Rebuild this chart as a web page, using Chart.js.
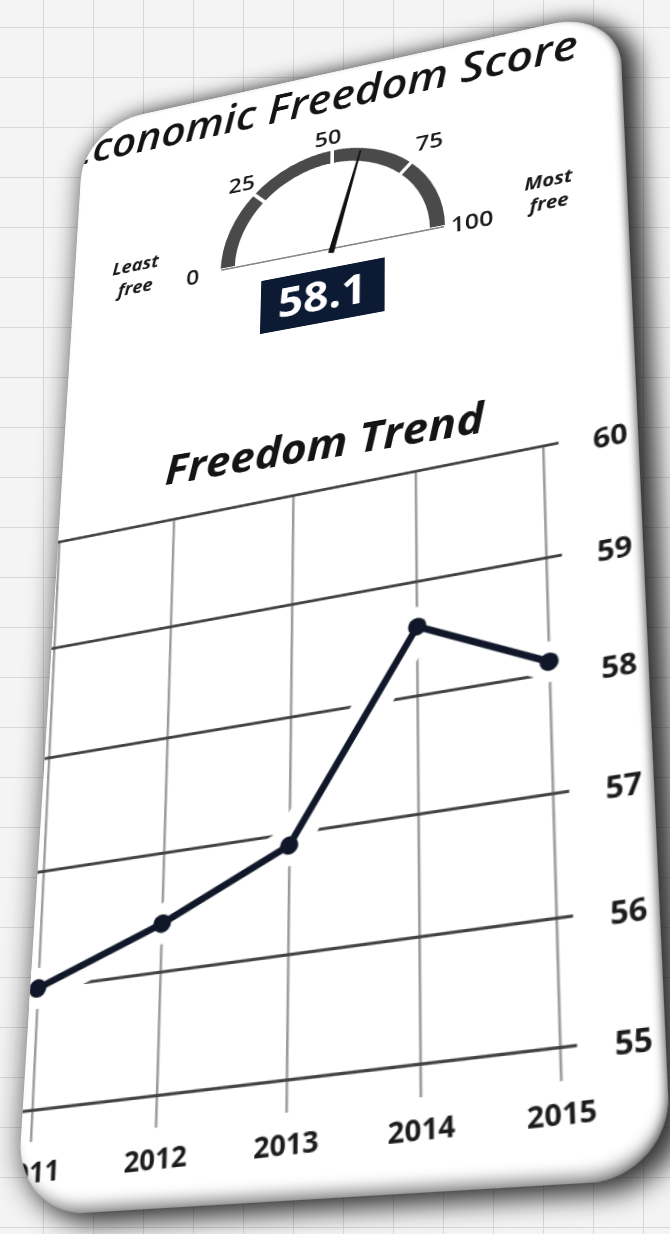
<!DOCTYPE html>
<html>
<head>
<meta charset="utf-8">
<script src="https://cdn.jsdelivr.net/npm/chart.js@4.4.1/dist/chart.umd.min.js"></script>
<style>
  html, body { margin: 0; padding: 0; }
  body {
    width: 670px; height: 1234px; overflow: hidden; position: relative;
    background-color: #f4f4f4;
    background-image:
      linear-gradient(#d8d8d8 1px, transparent 1px),
      linear-gradient(90deg, #d8d8d8 1px, transparent 1px);
    background-size: 50px 50px;
    background-position: 43px 27px;
    font-family: "Open Sans", sans-serif;
  }
  #card {
    position: absolute; left: 0; top: 0;
    width: 600px; height: 1200px;
    background: #fff;
    border-radius: 70px;
    overflow: hidden;
    transform-origin: 0 0;
    box-shadow:
      inset -4px -14px 14px -8px rgba(0,0,0,0.45),
      inset -6px 0 8px -5px rgba(0,0,0,0.55),
      0 0 26px 4px rgba(0,0,0,0.45),
      16px 8px 24px rgba(0,0,0,0.7);
  }
  .title {
    position: absolute; white-space: nowrap; line-height: 1;
    transform: translate(-50%, -50%);
    font-style: italic; color: #141414;
  }
  #scoreTitle { font-size: 50px; font-weight: 600; }
  #trendTitle { font-size: 47px; font-weight: 700; }
  canvas { position: absolute; }
  #trend { left: 0; top: 0; transform-origin: 0 0; }
</style>
</head>
<body>
<div id="card">
  <div id="scoreTitle" class="title">Economic Freedom Score</div>
  <canvas id="gauge"></canvas>
  <div id="trendTitle" class="title">Freedom Trend</div>
  <canvas id="trend"></canvas>
</div>
<script>
// data
const years = [2011, 2012, 2013, 2014, 2015];
const scores = [56.0, 56.4, 56.9, 58.6, 58.1];
const yTicks = [55, 56, 57, 58, 59, 60];
const gaugeTicks = [0, 25, 50, 75, 100];
const currentScore = 58.1;

// the card is drawn flat, then warped onto the photographed quad
const CARD_W = 600, CARD_H = 1200;
const cardCorners = [[84, 127], [619, 9], [672, 1178], [16, 1217]];

function squareToQuad(w, h, q) {
  const [[x0, y0], [x1, y1], [x2, y2], [x3, y3]] = q;
  const sx = x0 - x1 + x2 - x3, sy = y0 - y1 + y2 - y3;
  const dx1 = x1 - x2, dx2 = x3 - x2, dy1 = y1 - y2, dy2 = y3 - y2;
  const den = dx1 * dy2 - dx2 * dy1;
  const g = (sx * dy2 - dx2 * sy) / den;
  const k = (dx1 * sy - sx * dy1) / den;
  const a = x1 - x0 + g * x1, b = x3 - x0 + k * x3;
  const d = y1 - y0 + g * y1, e = y3 - y0 + k * y3;
  return [a / w, b / h, x0, d / w, e / h, y0, g / w, k / h, 1];
}

function invert(m) {
  const [a, b, c, d, e, f, g, h, i] = m;
  const A = e * i - f * h, B = -(d * i - f * g), C = d * h - e * g;
  const D = -(b * i - c * h), E = a * i - c * g, F = -(a * h - b * g);
  const G = b * f - c * e, H = -(a * f - c * d), I = a * e - b * d;
  const det = a * A + b * B + c * C;
  return [A / det, D / det, G / det, B / det, E / det, H / det, C / det, F / det, I / det];
}

function apply(m, x, y) {
  const w = m[6] * x + m[7] * y + m[8];
  return [(m[0] * x + m[1] * y + m[2]) / w, (m[3] * x + m[4] * y + m[5]) / w];
}

// shift a homography so that local point (x0, y0) is its origin
function offsetBy(m, x0, y0) {
  const r = m.slice();
  r[2] = m[2] - m[0] * x0 - m[1] * y0;
  r[5] = m[5] - m[3] * x0 - m[4] * y0;
  r[8] = m[8] - m[6] * x0 - m[7] * y0;
  return r;
}

function toCss(m) {
  const s = m[8];
  return "matrix3d(" + [
    m[0] / s, m[3] / s, 0, m[6] / s,
    m[1] / s, m[4] / s, 0, m[7] / s,
    0, 0, 1, 0,
    m[2] / s, m[5] / s, 0, 1
  ].join(",") + ")";
}

const warp = squareToQuad(CARD_W, CARD_H, cardCorners);
const unwarp = invert(warp);
const toCard = (x, y) => apply(unwarp, x, y);

document.getElementById("card").style.transform = toCss(warp);

function placeCenter(el, p) {
  el.style.left = p[0] + "px";
  el.style.top = p[1] + "px";
}
placeCenter(document.getElementById("scoreTitle"), toCard(315, 100));
placeCenter(document.getElementById("trendTitle"), toCard(321, 443));

// ---------- gauge ----------
const R = 128;
const GP = { left: 170, right: 170, top: 60, bottom: 110 };
const gCenter = toCard(331, 250);
const gaugeCanvas = document.getElementById("gauge");
gaugeCanvas.width = 2 * R + GP.left + GP.right;
gaugeCanvas.height = R + GP.top + GP.bottom;
gaugeCanvas.style.left = Math.round(gCenter[0] - R - GP.left) + "px";
gaugeCanvas.style.top = Math.round(gCenter[1] - R - GP.top) + "px";

const gaugeBands = gaugeTicks.slice(1).map((v, i) => v - gaugeTicks[i]);

const gaugeDecor = {
  id: "gaugeDecor",
  afterDatasetsDraw(chart) {
    const arc = chart.getDatasetMeta(0).data[0];
    const x = arc.x, y = arc.y, r = arc.outerRadius;
    const ctx = chart.ctx;
    ctx.save();

    // base line
    ctx.strokeStyle = "#8a8a8a";
    ctx.lineWidth = 2;
    ctx.beginPath();
    ctx.moveTo(x - r + 3, y);
    ctx.lineTo(x + r - 3, y);
    ctx.stroke();

    // scale numbers
    ctx.fillStyle = "#1a1a1a";
    ctx.font = "600 26px 'Open Sans'";
    ctx.textBaseline = "middle";
    const labelGap = { 25: 19, 50: 13, 75: 26 };
    gaugeTicks.forEach(v => {
      const a = Math.PI + v / 100 * Math.PI;
      if (v === 0) {
        ctx.textAlign = "right";
        ctx.fillText(String(v), x - r - 22, y + 4);
      } else if (v === 100) {
        ctx.textAlign = "left";
        ctx.fillText(String(v), x + r + 4, y + 2);
      } else {
        ctx.textAlign = "center";
        const rr = r + labelGap[v];
        ctx.fillText(String(v), x + rr * Math.cos(a) - (v === 50 ? 5 : 0), y + rr * Math.sin(a));
      }
    });

    ctx.font = "italic 700 21px 'Open Sans'";
    ctx.textAlign = "center";
    ctx.fillText("Least", x - r - 96, y - 26);
    ctx.fillText("free", x - r - 95, y + 2);
    ctx.fillText("Most", x + r + 106, y - 30);
    ctx.fillText("free", x + r + 106, y - 3);

    // needle
    const ang = Math.PI + currentScore / 100 * Math.PI;
    ctx.save();
    ctx.translate(x, y + 5);
    ctx.rotate(ang);
    ctx.fillStyle = "#111";
    ctx.beginPath();
    ctx.moveTo(0, -3.2);
    ctx.lineTo(r, -1);
    ctx.lineTo(r, 1);
    ctx.lineTo(0, 3.2);
    ctx.closePath();
    ctx.fill();
    ctx.restore();

    // score box
    ctx.save();
    ctx.translate(x - 9, y + 55);
    ctx.fillStyle = "#0d1a34";
    ctx.fillRect(-67, -32, 134, 64);
    ctx.fillStyle = "#fff";
    ctx.font = "700 48px 'Open Sans'";
    ctx.textAlign = "center";
    ctx.textBaseline = "middle";
    ctx.fillText(currentScore.toFixed(1), 0, 3);
    ctx.restore();

    ctx.restore();
  }
};

new Chart(gaugeCanvas, {
  type: "doughnut",
  data: {
    datasets: [{
      data: gaugeBands,
      backgroundColor: "#4a4a4a",
      borderColor: "#fff",
      borderWidth: 4,
      borderJoinStyle: "miter"
    }]
  },
  options: {
    responsive: false,
    animation: false,
    devicePixelRatio: 1,
    rotation: -90,
    circumference: 180,
    cutout: "84%",
    layout: { padding: GP },
    plugins: { legend: { display: false }, tooltip: { enabled: false } }
  },
  plugins: [gaugeDecor]
});

// ---------- trend line ----------
// chart laid out flat, then warped so 2011/2015 x 60/55 hit the picture's grid corners
const X_MIN = 2010.5, X_MAX = 2015.12;
const AREA_W = 580, AREA_H = 600;
const PAD_TOP = 30, Y_AXIS_W = 110, X_AXIS_H = 100;
const first = years[0], last = years[years.length - 1];
const yLow = yTicks[0], yHigh = yTicks[yTicks.length - 1];

const trendCanvas = document.getElementById("trend");
trendCanvas.width = AREA_W + Y_AXIS_W;
trendCanvas.height = PAD_TOP + AREA_H + X_AXIS_H;

const points = years.map((yr, i) => ({ x: yr, y: scores[i] }));
const labelFont = { family: "'Open Sans'", weight: "700" };

const trendChart = new Chart(trendCanvas, {
  type: "line",
  data: {
    datasets: [
      {
        data: points,
        borderColor: "#0f1728",
        backgroundColor: "#0f1728",
        borderWidth: 7,
        pointRadius: 9,
        pointBorderWidth: 0,
        pointBackgroundColor: "#0f1728",
        order: 1
      },
      {
        // white outline that breaks the grid around the line
        data: points,
        borderColor: "#fff",
        borderWidth: 36,
        pointRadius: 20,
        pointBorderWidth: 0,
        pointBackgroundColor: "#fff",
        order: 2
      }
    ]
  },
  options: {
    responsive: false,
    animation: false,
    devicePixelRatio: 1,
    layout: { padding: { top: PAD_TOP, left: 0, right: 0, bottom: 0 }, autoPadding: false },
    plugins: { legend: { display: false }, tooltip: { enabled: false } },
    scales: {
      x: {
        type: "linear",
        min: X_MIN,
        max: X_MAX,
        afterBuildTicks: s => { s.ticks = years.map(v => ({ value: v })); },
        afterFit: s => { s.height = X_AXIS_H; },
        border: { display: false },
        grid: { color: "#9a9a9a", lineWidth: 2.5, tickLength: 30 },
        ticks: {
          font: Object.assign({ size: 27 }, labelFont),
          color: "#1b1b1b",
          padding: 14,
          maxRotation: 0,
          callback: v => String(v)
        }
      },
      y: {
        position: "right",
        min: yLow,
        max: yHigh,
        afterBuildTicks: s => { s.ticks = yTicks.map(v => ({ value: v })); },
        afterFit: s => { s.width = Y_AXIS_W; },
        border: { display: false },
        grid: { color: "#434343", lineWidth: 3, drawTicks: false },
        ticks: {
          font: Object.assign({ size: 29 }, labelFont),
          color: "#1b1b1b",
          padding: 33,
          labelOffset: 5
        }
      }
    }
  }
});

// pin the drawn grid corners onto the picture's grid corners
const gridCornersImg = [[59, 542], [543, 446], [560, 1047], [32, 1110]];
const gridCornersCard = gridCornersImg.map(p => toCard(p[0], p[1]));
const lx0 = trendChart.scales.x.getPixelForValue(first);
const lx1 = trendChart.scales.x.getPixelForValue(last);
const ly0 = trendChart.scales.y.getPixelForValue(yHigh);
const ly1 = trendChart.scales.y.getPixelForValue(yLow);
trendCanvas.style.transform = toCss(
  offsetBy(squareToQuad(lx1 - lx0, ly1 - ly0, gridCornersCard), lx0, ly0)
);
</script>
</body>
</html>
